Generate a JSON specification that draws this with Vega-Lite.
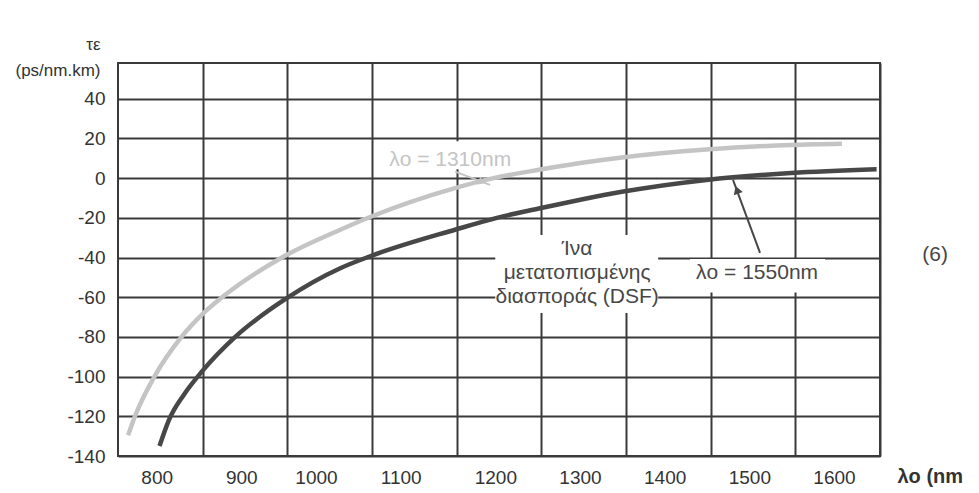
{
  "$schema": "https://vega.github.io/schema/vega-lite/v6.json",
  "width": 762,
  "height": 393,
  "autosize": {"type": "none"},
  "padding": {"left": 118, "top": 63, "right": 99, "bottom": 37},
  "background": "white",
  "config": {
    "font": "Liberation Sans",
    "view": {"stroke": "#3a3a3a", "strokeWidth": 2}
  },
  "datasets": {
    "curves": [
      {"series": "DSF", "wavelength": 799, "dispersion": -135},
      {"series": "DSF", "wavelength": 810, "dispersion": -122},
      {"series": "DSF", "wavelength": 828, "dispersion": -109},
      {"series": "DSF", "wavelength": 850, "dispersion": -97},
      {"series": "DSF", "wavelength": 888.5, "dispersion": -80},
      {"series": "DSF", "wavelength": 947.5, "dispersion": -61},
      {"series": "DSF", "wavelength": 1012.5, "dispersion": -45.4},
      {"series": "DSF", "wavelength": 1047, "dispersion": -39.5},
      {"series": "DSF", "wavelength": 1148, "dispersion": -26},
      {"series": "DSF", "wavelength": 1197.5, "dispersion": -20},
      {"series": "DSF", "wavelength": 1247, "dispersion": -15.3},
      {"series": "DSF", "wavelength": 1296, "dispersion": -10.9},
      {"series": "DSF", "wavelength": 1345, "dispersion": -6.9},
      {"series": "DSF", "wavelength": 1445, "dispersion": -0.9},
      {"series": "DSF", "wavelength": 1545, "dispersion": 2.6},
      {"series": "DSF", "wavelength": 1646, "dispersion": 4.5},
      {"series": "SMF", "wavelength": 762, "dispersion": -129.5},
      {"series": "SMF", "wavelength": 770, "dispersion": -120},
      {"series": "SMF", "wavelength": 793, "dispersion": -100},
      {"series": "SMF", "wavelength": 825, "dispersion": -80},
      {"series": "SMF", "wavelength": 851, "dispersion": -68},
      {"series": "SMF", "wavelength": 873, "dispersion": -60},
      {"series": "SMF", "wavelength": 943.6, "dispersion": -40},
      {"series": "SMF", "wavelength": 1012.5, "dispersion": -26},
      {"series": "SMF", "wavelength": 1047, "dispersion": -19.7},
      {"series": "SMF", "wavelength": 1148, "dispersion": -5},
      {"series": "SMF", "wavelength": 1193.5, "dispersion": 0},
      {"series": "SMF", "wavelength": 1247, "dispersion": 4.2},
      {"series": "SMF", "wavelength": 1296, "dispersion": 7.6},
      {"series": "SMF", "wavelength": 1345, "dispersion": 10.4},
      {"series": "SMF", "wavelength": 1445, "dispersion": 14.4},
      {"series": "SMF", "wavelength": 1545, "dispersion": 16.7},
      {"series": "SMF", "wavelength": 1605, "dispersion": 17.3}
    ],
    "boxes": [
      {"name": "dsf", "x1": 1195.6, "x2": 1388, "y1": -28.6, "y2": -67.9},
      {"name": "l1550", "x1": 1425.6, "x2": 1585, "y1": -40.8, "y2": -57.6},
      {"name": "l1310", "x1": 1063, "x2": 1219, "y1": 18.6, "y2": 4.5}
    ],
    "arrows": [
      {"series": "DSF", "x1": 1508.3, "y1": -37.7, "x2": 1476.4, "y2": -0.9, "hx": 1481, "hy": -5.9},
      {"series": "SMF", "x1": 1148.2, "y1": 3.3, "x2": 1189.5, "y2": -3.4, "hx": 1180, "hy": -1.9}
    ],
    "notes": [
      {"series": "SMF", "text": "λo = 1310nm", "x": 1142.3, "y": 9.2},
      {"series": "DSF", "text": "λo = 1550nm", "x": 1504.8, "y": -47.8},
      {"series": "DSF", "text": "Ίνα\nμετατοπισμένης\nδιασποράς (DSF)", "x": 1292.3, "y": -35.7},
      {"series": "DSF", "text": "(6)", "x": 1715, "y": -38.7}
    ]
  },
  "encoding": {
    "x": {
      "type": "quantitative",
      "scale": {"domain": [750, 1650], "nice": false, "zero": false},
      "axis": {
        "values": [850, 950, 1050, 1150, 1250, 1350, 1450, 1550, 1650],
        "labelExpr": "toString(datum.value - 50)",
        "labelOffset": {"condition": {"test": "datum.value == 1050 || datum.value == 1150", "value": -56}, "value": -46},
        "labelFlush": false,
        "labelOverlap": false,
        "grid": true,
        "gridColor": "#3a3a3a",
        "gridWidth": 2,
        "gridOpacity": 1,
        "ticks": false,
        "domain": false,
        "labelPadding": 12,
        "labelFontSize": 19,
        "labelColor": "#333333",
        "title": "λo (nm",
        "titleX": 779,
        "titleY": 20,
        "titleAlign": "left",
        "titleBaseline": "middle",
        "titleFontWeight": "bold",
        "titleFontSize": 20,
        "titleColor": "#333333"
      }
    },
    "y": {
      "type": "quantitative",
      "scale": {"domain": [-140, 58], "nice": false, "zero": false},
      "axis": {
        "values": [-140, -120, -100, -80, -60, -40, -20, 0, 20, 40],
        "labelExpr": "toString(datum.value)",
        "grid": true,
        "gridColor": "#3a3a3a",
        "gridWidth": 2,
        "gridOpacity": 1,
        "ticks": false,
        "domain": false,
        "labelPadding": 13,
        "labelFontSize": 19,
        "labelColor": "#333333",
        "labelOverlap": false,
        "title": ["τε", "(ps/nm.km)"],
        "titleAngle": 0,
        "titleAlign": "right",
        "titleBaseline": "top",
        "titleX": -18,
        "titleY": -27,
        "titleLineHeight": 26,
        "titleFontSize": 17,
        "titleFontWeight": "normal",
        "titleColor": "#333333"
      }
    }
  },
  "layer": [
    {
      "data": {"name": "boxes"},
      "mark": {"type": "rect", "fill": "white"},
      "encoding": {
        "x": {"field": "x1", "type": "quantitative"},
        "x2": {"field": "x2"},
        "y": {"field": "y1", "type": "quantitative"},
        "y2": {"field": "y2"}
      }
    },
    {
      "data": {"name": "curves"},
      "mark": {"type": "line", "strokeWidth": 4.5, "interpolate": "monotone", "strokeCap": "butt"},
      "encoding": {
        "x": {"field": "wavelength", "type": "quantitative"},
        "y": {"field": "dispersion", "type": "quantitative"},
        "color": {"field": "series", "type": "nominal", "scale": {"domain": ["DSF", "SMF"], "range": ["#474747", "#c4c4c4"]}, "legend": null},
        "detail": {"field": "series"}
      }
    },
    {
      "data": {"name": "arrows"},
      "mark": {"type": "rule", "strokeWidth": 2},
      "encoding": {
        "x": {"field": "x1", "type": "quantitative"},
        "y": {"field": "y1", "type": "quantitative"},
        "x2": {"field": "x2"},
        "y2": {"field": "y2"},
        "color": {"field": "series", "type": "nominal", "legend": null}
      }
    },
    {
      "data": {"name": "arrows"},
      "transform": [{"filter": "datum.series == 'DSF'"}],
      "mark": {"type": "point", "shape": "triangle-up", "filled": true, "size": 90, "angle": 340, "opacity": 1},
      "encoding": {
        "x": {"field": "hx", "type": "quantitative"},
        "y": {"field": "hy", "type": "quantitative"},
        "color": {"field": "series", "type": "nominal", "legend": null}
      }
    },
    {
      "data": {"name": "arrows"},
      "transform": [{"filter": "datum.series == 'SMF'"}],
      "mark": {"type": "point", "shape": "triangle-up", "filled": true, "size": 70, "angle": 111, "opacity": 1},
      "encoding": {
        "x": {"field": "hx", "type": "quantitative"},
        "y": {"field": "hy", "type": "quantitative"},
        "color": {"field": "series", "type": "nominal", "legend": null}
      }
    },
    {
      "data": {"name": "notes"},
      "mark": {"type": "text", "fontSize": 21, "lineBreak": "\n", "lineHeight": 24, "align": "center", "baseline": "middle"},
      "encoding": {
        "x": {"field": "x", "type": "quantitative"},
        "y": {"field": "y", "type": "quantitative"},
        "text": {"field": "text"},
        "color": {"field": "series", "type": "nominal", "legend": null}
      }
    }
  ]
}
